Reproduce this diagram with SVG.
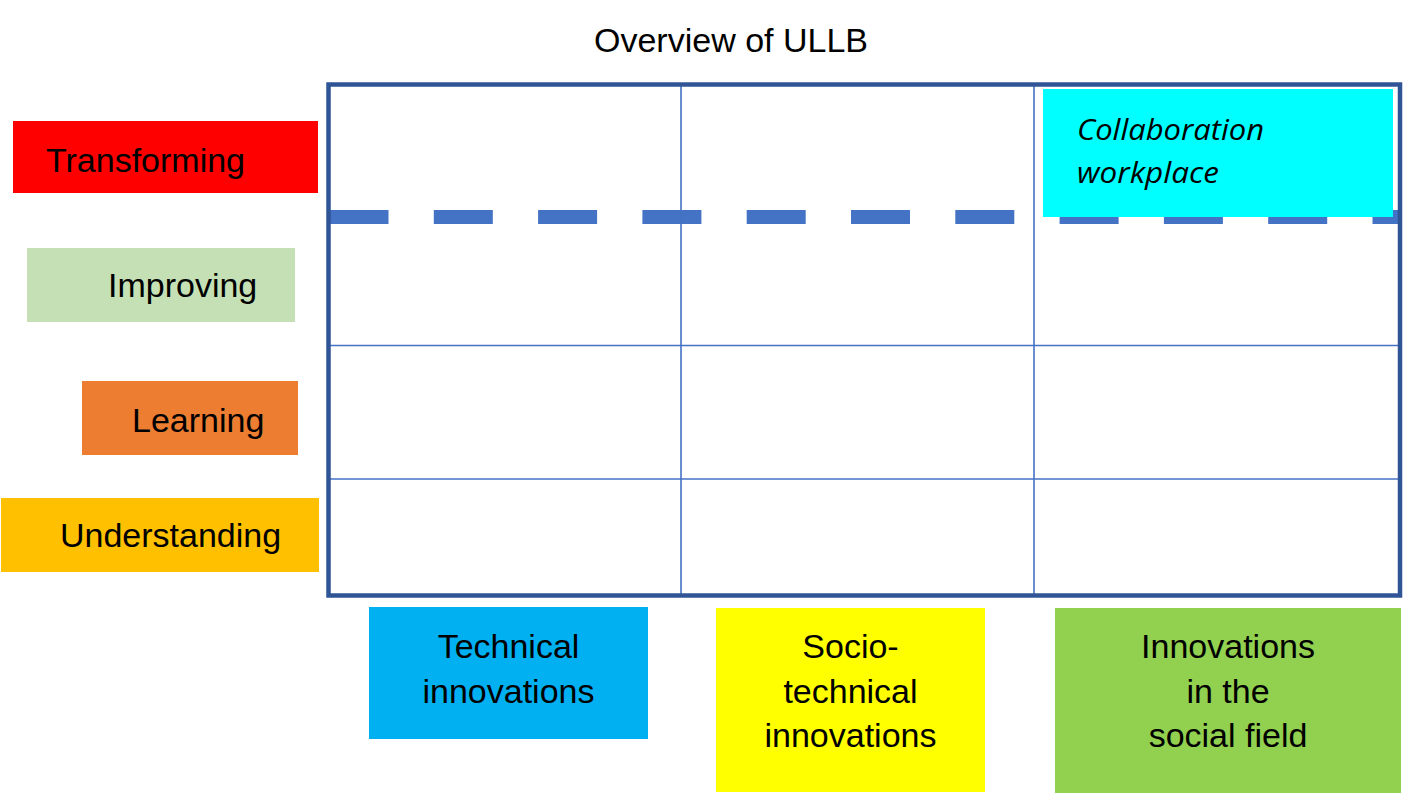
<svg xmlns="http://www.w3.org/2000/svg" width="1416" height="802" viewBox="0 0 1416 802">
<style>
.lbl{font-family:"Liberation Sans",Arial,sans-serif;font-size:34px;fill:#000}
.ctr{text-anchor:middle}
.grid{stroke:#4472C4;stroke-width:1.6;fill:none}
.it{font-family:"Open Sans","Noto Sans",sans-serif;font-style:italic;font-size:29px;fill:#000}
</style>
<rect width="1416" height="802" fill="#fff"/>
<text id="title" class="lbl ctr" x="731" y="52" font-size="33">Overview of ULLB</text>
<g id="connectors">
<line x1="329.5" y1="217" x2="1400" y2="217" stroke="#4472C4" stroke-width="14" stroke-dasharray="59 45.3"/>
<line class="grid" x1="681" y1="84" x2="681" y2="596"/>
<line class="grid" x1="1034" y1="84" x2="1034" y2="596"/>
<line class="grid" x1="328" y1="345.5" x2="1400" y2="345.5"/>
<line class="grid" x1="328" y1="479" x2="1400" y2="479"/>
<rect x="328.5" y="84.5" width="1071.5" height="511" fill="none" stroke="#2F5597" stroke-width="4.5"/>
</g>
<g id="collab">
<rect x="1043" y="89" width="350" height="128" fill="#00FFFF"/>
<text class="it" x="1077" y="140" textLength="187" lengthAdjust="spacingAndGlyphs">Collaboration</text>
<text class="it" x="1077" y="183" textLength="142" lengthAdjust="spacingAndGlyphs">workplace</text>
</g>
<g id="transforming">
<rect x="13" y="121" width="305" height="72" fill="#FF0000"/>
<text class="lbl" x="46" y="172">Transforming</text>
</g>
<g id="improving">
<rect x="27" y="248" width="268" height="74" fill="#C5E0B4"/>
<text class="lbl" x="108" y="297">Improving</text>
</g>
<g id="learning">
<rect x="82" y="381" width="216" height="74" fill="#ED7D31"/>
<text class="lbl" x="132" y="432">Learning</text>
</g>
<g id="understanding">
<rect x="1" y="498" width="318" height="74" fill="#FFC000"/>
<text class="lbl" x="60" y="547">Understanding</text>
</g>
<g id="technical">
<rect x="369" y="607" width="279" height="132" fill="#00B0F0"/>
<text class="lbl ctr" x="508.5" y="658">Technical</text>
<text class="lbl ctr" x="508.5" y="703">innovations</text>
</g>
<g id="sociotechnical">
<rect x="716" y="608" width="269" height="184" fill="#FFFF00"/>
<text class="lbl ctr" x="850.5" y="658">Socio-</text>
<text class="lbl ctr" x="850.5" y="703">technical</text>
<text class="lbl ctr" x="850.5" y="747">innovations</text>
</g>
<g id="social">
<rect x="1055" y="608" width="346" height="185" fill="#92D050"/>
<text class="lbl ctr" x="1228" y="658">Innovations</text>
<text class="lbl ctr" x="1228" y="703">in the</text>
<text class="lbl ctr" x="1228" y="747">social field</text>
</g>
</svg>
